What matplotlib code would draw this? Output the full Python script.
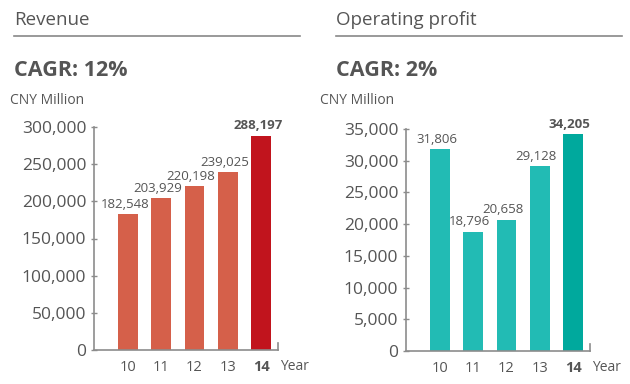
import matplotlib
matplotlib.use('Agg')
from matplotlib import pyplot as plt

plt.rcParams['font.family'] = ['Open Sans', 'DejaVu Sans']

years = ['10', '11', '12', '13', '14']
revenue = [182548, 203929, 220198, 239025, 288197]
profit = [31806, 18796, 20658, 29128, 34205]
revenue_ticks = [0, 50000, 100000, 150000, 200000, 250000, 300000]
profit_ticks = [0, 5000, 10000, 15000, 20000, 25000, 30000, 35000]

W, H = 630, 384
TXT = '#555555'
AXC = '#8c8c8c'

fig = plt.figure(figsize=(W / 100, H / 100), dpi=100)


def fx(px):
    return px / W


def fy(py):
    return 1 - py / H


def panel(x0, x1, ytop, ybot, values, ticks, ymax, color, last_color,
          title, cagr, tx, cx):
    ax = fig.add_axes([fx(x0), fy(ybot), fx(x1 - x0), (ybot - ytop) / H])
    xs = list(range(len(values)))
    colors = [color] * (len(values) - 1) + [last_color]
    ax.bar(xs, values, width=0.6, color=colors)
    ax.set_xlim(-1.02, 4.51)
    ax.set_ylim(0, ymax)
    ax.set_yticks(ticks)
    ax.set_yticklabels(['{:,}'.format(t) for t in ticks], fontsize=12.5, color=TXT)
    ax.set_xticks(xs)
    ax.set_xticklabels(years, fontsize=10.5, color=TXT)
    ax.get_xticklabels()[-1].set_fontweight('bold')
    ax.tick_params(axis='y', direction='inout', length=5, color=AXC, pad=3, width=1)
    ax.tick_params(axis='x', length=0, pad=7)
    ax.spines['top'].set_visible(False)
    ax.spines['right'].set_bounds(0, ymax * 0.03)
    for s in ['left', 'bottom', 'right']:
        ax.spines[s].set_color(AXC)
        ax.spines[s].set_linewidth(1.2)
    off = ymax * 0.045
    for i, v in enumerate(values):
        bold = i == len(values) - 1
        ax.text(i - 0.1, v + off, '{:,}'.format(v), ha='center', va='center',
                fontsize=9.5, color=TXT, fontweight='bold' if bold else 'normal')
    ax.text(1.01, -0.075, 'Year', transform=ax.transAxes, ha='left', va='center',
            fontsize=10, color=TXT)
    # header
    fig.text(fx(tx), fy(20), title, fontsize=13.5, color=TXT, ha='left', va='center')
    fig.add_artist(plt.Line2D([fx(tx), fx(tx + 286)], [fy(36), fy(36)],
                              color='#888888', linewidth=1.2))
    fig.text(fx(tx), fy(70), cagr, fontsize=15.5, color=TXT, ha='left',
             va='center', fontweight='bold')
    fig.text(fx(cx), fy(101), 'CNY Million', fontsize=10, color=TXT,
             ha='left', va='center')
    return ax


panel(94, 278, 127, 350, revenue, revenue_ticks, 300000, '#d5604a', '#c1141d',
      'Revenue', 'CAGR: 12%', 14, 10)
panel(406, 590, 129, 351, profit, profit_ticks, 35000, '#22bbb4', '#00a99d',
      'Operating profit', 'CAGR: 2%', 336, 320)

fig.savefig('out.png', dpi=100)
